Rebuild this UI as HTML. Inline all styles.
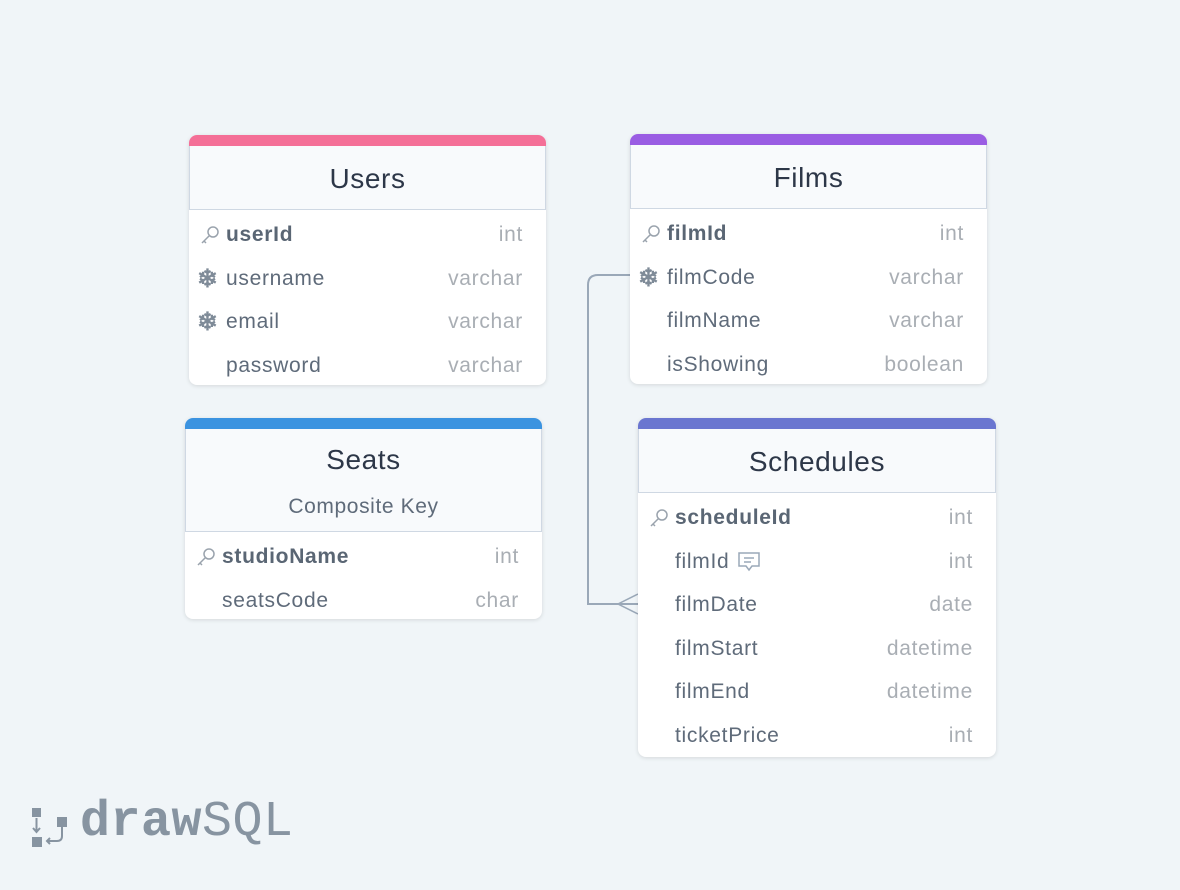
<!DOCTYPE html>
<html><head><meta charset="utf-8"><style>
body{margin:0;width:1180px;height:890px;background:#f0f5f8;font-family:"Liberation Sans",sans-serif;position:relative;overflow:hidden}
.t{position:absolute;background:#fff;border-radius:8px;box-shadow:0 1px 4px rgba(0,0,0,.12);overflow:hidden}
.bar{height:11px}
.h{background:#f8fafc;border:1px solid #cfd8e3;border-top:none;box-sizing:border-box;text-align:center;color:#2d3748;font-size:28px;letter-spacing:0.6px}
.r{height:43.5px;position:relative;font-size:21px;letter-spacing:0.7px;color:#5f6b7a}
.r .n{position:absolute;left:37px;top:13px}
.r .ty{position:absolute;right:23px;top:13px;color:#a9aeb4}
.r b{color:#5a6674}
.ic{position:absolute;left:10px;top:14px;width:22px;height:22px}
.sf{position:absolute;left:8px;top:10px;color:#7f8b98;font-size:25px;font-weight:bold;letter-spacing:0}
</style></head><body>
<svg width="1180" height="890" style="position:absolute;left:0;top:0">
<path d="M630 275 H598 Q588 275 588 285 V604 H638" fill="none" stroke="#9aa8b8" stroke-width="2"/>
<path d="M638 594 L618 604 L638 614" fill="none" stroke="#9aa8b8" stroke-width="1.5"/>
</svg>

<div class="t" style="left:189px;top:135px;width:357px;height:250px">
<div class="bar" style="background:#f46f97"></div>
<div class="h" style="height:64px;line-height:66px">Users</div>
<div class="r"><svg class="ic" viewBox="0 0 22 22"><circle cx="14" cy="8" r="5" fill="none" stroke="#9aa3ad" stroke-width="1.5"/><path d="M10 12 L3 19 M5 17 l2 2" stroke="#9aa3ad" stroke-width="1.5" fill="none"/></svg><b class="n">userId</b><span class="ty">int</span></div>
<div class="r"><span class="sf">❄</span><span class="n">username</span><span class="ty">varchar</span></div>
<div class="r"><span class="sf">❄</span><span class="n">email</span><span class="ty">varchar</span></div>
<div class="r"><span class="n">password</span><span class="ty">varchar</span></div>
</div>

<div class="t" style="left:630px;top:134px;width:357px;height:250px">
<div class="bar" style="background:#9a5de3"></div>
<div class="h" style="height:64px;line-height:66px">Films</div>
<div class="r"><svg class="ic" viewBox="0 0 22 22"><circle cx="14" cy="8" r="5" fill="none" stroke="#9aa3ad" stroke-width="1.5"/><path d="M10 12 L3 19 M5 17 l2 2" stroke="#9aa3ad" stroke-width="1.5" fill="none"/></svg><b class="n">filmId</b><span class="ty">int</span></div>
<div class="r"><span class="sf">❄</span><span class="n">filmCode</span><span class="ty">varchar</span></div>
<div class="r"><span class="n">filmName</span><span class="ty">varchar</span></div>
<div class="r"><span class="n">isShowing</span><span class="ty">boolean</span></div>
</div>

<div class="t" style="left:185px;top:418px;width:357px;height:201px">
<div class="bar" style="background:#3b93e0"></div>
<div class="h" style="height:103px;padding-top:16px;line-height:30px">Seats<div style="font-size:21px;letter-spacing:0.6px;color:#5f6b7a;margin-top:17px">Composite Key</div></div>
<div class="r"><svg class="ic" viewBox="0 0 22 22"><circle cx="14" cy="8" r="5" fill="none" stroke="#9aa3ad" stroke-width="1.5"/><path d="M10 12 L3 19 M5 17 l2 2" stroke="#9aa3ad" stroke-width="1.5" fill="none"/></svg><b class="n">studioName</b><span class="ty">int</span></div>
<div class="r"><span class="n">seatsCode</span><span class="ty">char</span></div>
</div>

<div class="t" style="left:638px;top:418px;width:358px;height:339px">
<div class="bar" style="background:#6a76d0"></div>
<div class="h" style="height:64px;line-height:66px">Schedules</div>
<div class="r"><svg class="ic" viewBox="0 0 22 22"><circle cx="14" cy="8" r="5" fill="none" stroke="#9aa3ad" stroke-width="1.5"/><path d="M10 12 L3 19 M5 17 l2 2" stroke="#9aa3ad" stroke-width="1.5" fill="none"/></svg><b class="n">scheduleId</b><span class="ty">int</span></div>
<div class="r"><span class="n">filmId <svg width="26" height="22" viewBox="0 0 26 22" style="vertical-align:-5px"><path d="M3 2 H23 V15 H16 L13 19 L10 15 H3 Z" fill="none" stroke="#9aa8b8" stroke-width="1.5"/><path d="M8 7 H18 M8 11 H15" stroke="#9aa8b8" stroke-width="1.5"/></svg></span><span class="ty">int</span></div>
<div class="r"><span class="n">filmDate</span><span class="ty">date</span></div>
<div class="r"><span class="n">filmStart</span><span class="ty">datetime</span></div>
<div class="r"><span class="n">filmEnd</span><span class="ty">datetime</span></div>
<div class="r"><span class="n">ticketPrice</span><span class="ty">int</span></div>
</div>

<svg style="position:absolute;left:30px;top:806px" width="40" height="42" viewBox="0 0 40 42">
<rect x="2" y="2" width="9" height="9" fill="#8794a1"/><rect x="2" y="31" width="10" height="10" fill="#8794a1"/><rect x="27" y="11" width="10" height="10" fill="#8794a1"/>
<path d="M6.5 12 V26 M3 22 l3.5 4 3.5-4 M32 21 V30 Q32 35 27 35 H17 M20 32 l-3 3 3 3" fill="none" stroke="#8794a1" stroke-width="2"/>
</svg>
<div style="position:absolute;left:80px;top:794px;font-family:'Liberation Mono',monospace;font-size:50px;color:#8794a1;letter-spacing:0.5px"><b>draw</b>SQL</div>
</body></html>
